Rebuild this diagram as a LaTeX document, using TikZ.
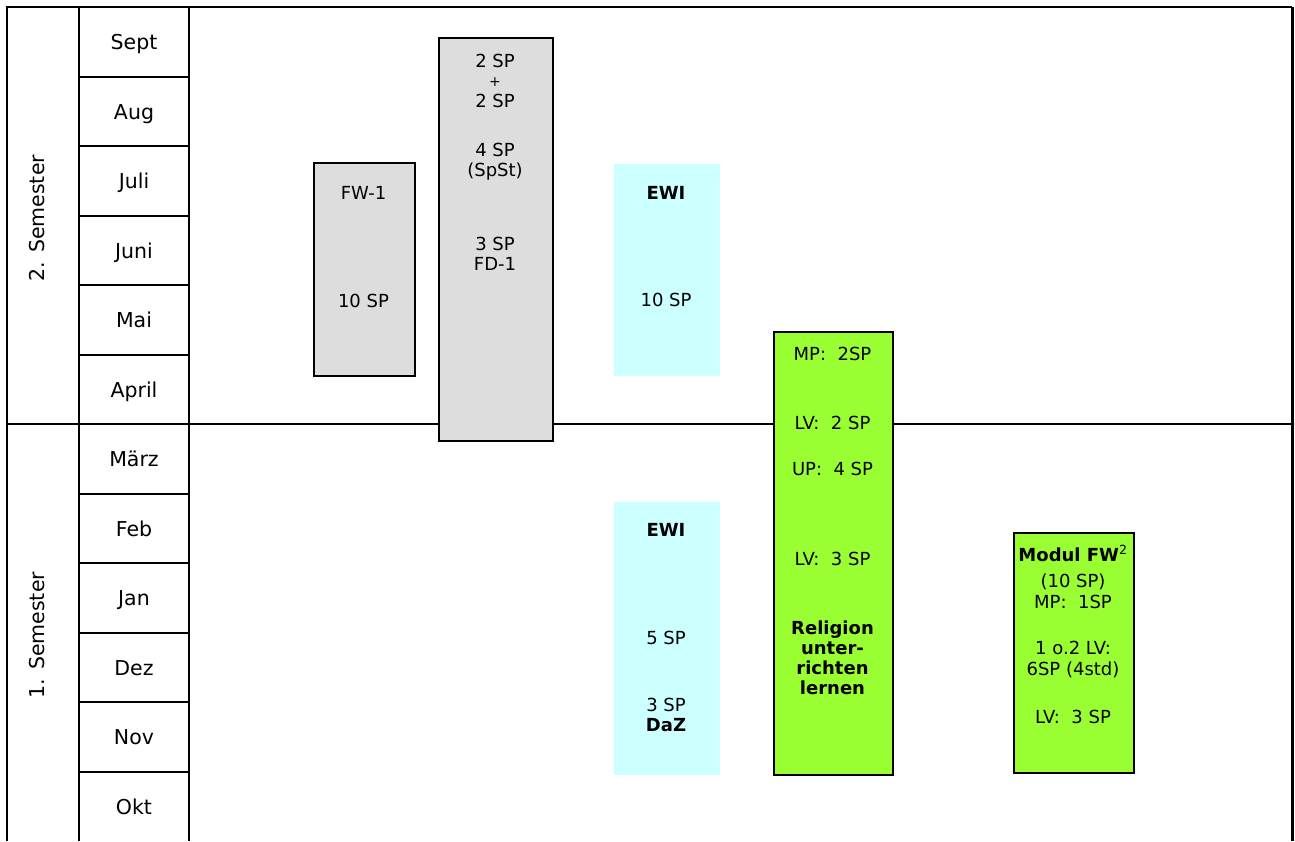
\documentclass[tikz,border=0pt]{standalone}
\usepackage{fontspec}
\setmainfont{DejaVu Sans}
\definecolor{boxgray}{HTML}{DDDDDD}
\definecolor{ewicyan}{HTML}{CCFFFF}
\definecolor{modgreen}{HTML}{99FF33}

\begin{document}
\begin{tikzpicture}[
    x=1pt, y=-1pt,
    grid/.style={line width=2pt},
    block/.style={draw=black, line width=1.6pt, inner sep=0pt, anchor=north west},
    txt/.style={anchor=base, inner sep=0pt, font=\fontsize{18}{20}\selectfont},
    mon/.style={anchor=base, inner sep=0pt, font=\fontsize{20.5}{22}\selectfont}
]
\useasboundingbox (0,0) rectangle (1295,841);
% table frame
\draw[grid] (7,841) -- (7,7) -- (1292,7);
\draw[grid] (79,7) -- (79,841);
\draw[grid] (189,7) -- (189,841);
\draw[line width=3pt] (1292,7) -- (1292,841);
\draw[grid] (7,424) -- (1292,424);
\foreach \i in {1,...,5,7,8,9,10,11}
  \draw[grid] (79,{7+69.5*\i}) -- (189,{7+69.5*\i});
% months, top to bottom
\foreach \m [count=\i from 0] in {Sept,Aug,Juli,Juni,Mai,April,März,Feb,Jan,Dez,Nov,Okt}
  \node[mon] (m\i) at (134,{7+69.5*\i+42.5}) {\m};
\node[mon, anchor=center, rotate=90] (sem2) at (37,218) {2. Semester};
\node[mon, anchor=center, rotate=90] (sem1) at (37,635) {1. Semester};

% module blocks
\node[block, fill=boxgray, minimum width=101pt, minimum height=213pt] (fw1) at (313,162) {};
\node[block, fill=boxgray, minimum width=114pt, minimum height=403pt] (fd1) at (438,37) {};
\node[block, draw=none, fill=ewicyan, minimum width=106pt, minimum height=212pt] (ewi2) at (613,163) {};
\node[block, draw=none, fill=ewicyan, minimum width=106pt, minimum height=273pt] (ewi1) at (613,501) {};
\node[block, fill=modgreen, minimum width=119pt, minimum height=443pt] (rel) at (773,331) {};
\node[block, fill=modgreen, minimum width=120pt, minimum height=240pt] (fw2) at (1013,532) {};

% block texts
\foreach \yy/\txt [count=\k] in {199/FW-1, 307/10 SP}
  \node[txt] (fw1t\k) at (363.5,\yy) {\txt};
\foreach \yy/\txt [count=\k] in {67/2 SP, 86/{\fontsize{14}{16}\selectfont +}, 107/2 SP, 156/4 SP, 176/(SpSt), 250/3 SP, 270/FD-1}
  \node[txt] (fd1t\k) at (495,\yy) {\txt};
\foreach \yy/\txt [count=\k] in {199/\textbf{EWI}, 306/10 SP}
  \node[txt] (ewi2t\k) at (666,\yy) {\txt};
\foreach \yy/\txt [count=\k] in {536/\textbf{EWI}, 644/5 SP, 711/3 SP, 731/\textbf{DaZ}}
  \node[txt] (ewi1t\k) at (666,\yy) {\txt};
\foreach \yy/\txt [count=\k] in {360/MP:\ \ 2SP, 429/LV:\ \ 2 SP, 475/UP:\ \ 4 SP, 565/LV:\ \ 3 SP,
    634/\textbf{Religion}, 654/\textbf{unter-}, 674/\textbf{richten}, 694/\textbf{lernen}}
  \node[txt] (relt\k) at (832.5,\yy) {\txt};
\foreach \yy/\txt [count=\k] in {561/\textbf{Modul FW}\textsuperscript{2}, 587/(10 SP), 608/MP:\ \ 1SP,
    654/1 o.2 LV:, 675/6SP (4std), 723/LV:\ \ 3 SP}
  \node[txt] (fw2t\k) at (1073,\yy) {\txt};
\end{tikzpicture}
\end{document}
